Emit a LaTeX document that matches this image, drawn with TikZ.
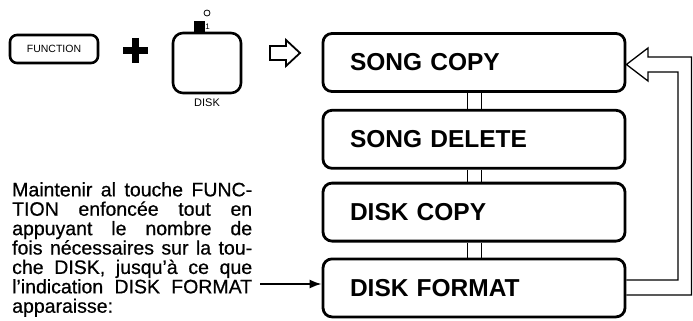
\documentclass[tikz,border=0pt]{standalone}
\usepackage{fontspec}
\setmainfont{Liberation Sans}
\newfontfamily\hintfont[FakeBold=0.6]{Liberation Sans}
\usetikzlibrary{positioning,calc,arrows.meta}

\begin{document}
\begin{tikzpicture}[x=1pt,y=-1pt,>={Latex[length=12pt,width=9pt]},
    menu/.style={draw,line width=2.8pt,rounded corners=9pt,minimum height=58pt,
        text width=248pt,inner xsep=27pt,align=left,
        font=\bfseries\fontsize{24.5}{24.5}\selectfont},
    key/.style={draw,line width=2.6pt,rounded corners=7pt,inner sep=0pt},
    rail/.style={line width=0.9pt}]
\useasboundingbox (0,0) rectangle (693,321);

%The two keys that are pressed together
    \node[key,minimum width=88pt,minimum height=28pt,
        font=\fontsize{10.5}{10.5}\selectfont] (function) at (54,49) {FUNCTION};
    \draw[line width=7pt] (123,50.5) -- (148,50.5);
    \draw[line width=7pt] (135.5,38) -- (135.5,63);
    \node[key,minimum width=68pt,minimum height=60pt,rounded corners=10pt] (disk) at (207,63) {};
    \node[below=1pt of disk,font=\fontsize{11}{11}\selectfont] (disklabel) {DISK};
    \node[fill,minimum size=11pt,inner sep=0pt,anchor=south] (led) at (199,32) {};
    \node[right=0.5pt of led,inner sep=0pt,font=\fontsize{8}{8}\selectfont] (ledlabel) {1};
    \node[draw,thick,circle,minimum size=6pt,inner sep=0pt] (lamp) at (207,13) {};
    \draw[line width=1.8pt] (270,46) -- (286,46) -- (286,40) -- (300,53) -- (286,66) -- (286,60) -- (270,60) -- cycle;

%The four display messages
    \node[menu] (songcopy) at (474,62.5) {SONG COPY};
    \node[menu,below=16pt of songcopy] (songdelete) {SONG DELETE};
    \node[menu,below=12pt of songdelete] (diskcopy) {DISK COPY};
    \node[menu,below=15pt of diskcopy] (diskformat) {DISK FORMAT};
    \foreach \upper/\lower in {songcopy/songdelete,songdelete/diskcopy,diskcopy/diskformat}
        {
        \draw[rail] ([xshift=-7pt]\upper.south) -- ([xshift=-7pt]\lower.north);
        \draw[rail] ([xshift=7pt]\upper.south) -- ([xshift=7pt]\lower.north);
    }

%Hollow arrow going back to the first message
    \coordinate (inner) at (678,0);
    \coordinate (outer) at (691.5,0);
    \coordinate (loopin) at ([yshift=8pt]diskformat.east);
    \coordinate (loopout) at ([yshift=-7pt]diskformat.east);
    \coordinate (tip) at ([yshift=-2pt]songcopy.east);
    \draw[line width=1.3pt,line join=miter] (loopin) -- (loopin -| inner) -- (inner |- 0,72) -- (648,72)
        -- (648,81) -- (tip) -- (648,48) -- (648,57) -- (outer |- 0,57) -- (outer |- loopout) -- (loopout);

%Instruction text
    \node[anchor=north west,inner sep=0pt,align=left,
        font=\hintfont\fontsize{19.5}{19.4}\selectfont] (hint) at (12,182)
        {\makebox[240pt][s]{Maintenir al touche FUNC-}\\
         \makebox[240pt][s]{TION enfoncée tout en}\\
         \makebox[240pt][s]{appuyant le nombre de}\\
         \makebox[240pt][s]{fois nécessaires sur la tou-}\\
         \makebox[240pt][s]{che DISK, jusqu’à ce que}\\
         \makebox[240pt][s]{l’indication DISK FORMAT}\\
         apparaisse:};
    \coordinate (hintend) at (260,284);
    \draw[->,line width=1.8pt] (hintend) -- (hintend -| diskformat.west);
\end{tikzpicture}
\end{document}
